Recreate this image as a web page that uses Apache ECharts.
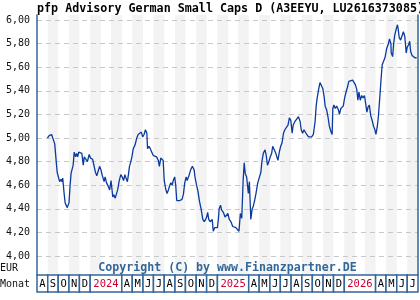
<!DOCTYPE html>
<html><head><meta charset="utf-8">
<script src="https://cdn.jsdelivr.net/npm/echarts@6/dist/echarts.min.js"></script>
<style>html,body{margin:0;padding:0;background:#fff}#c{width:420px;height:300px}</style>
</head><body><div id="c"></div>
<script>
const titleText = 'pfp Advisory German Small Caps D (A3EEYU, LU2616373085)';
const copyrightText = 'Copyright (C) by www.Finanzpartner.DE';
const unitLabel = 'EUR';
const monthRowLabel = 'Monat';
const axisStart = '2023-08-01';
const axisEnd = '2026-08-01';
const yTicks = [4.0, 4.2, 4.4, 4.6, 4.8, 5.0, 5.2, 5.4, 5.6, 5.8, 6.0];
const monthLabels = ['A','S','O','N','D','2024','A','M','J','J','A','S','O','N','D','2025','A','M','J','J','A','S','O','N','D','2026','A','M','J','J'];

const dates = [
'2023-08-31','2023-09-05','2023-09-12','2023-09-17','2023-09-21','2023-09-25','2023-09-28','2023-10-01','2023-10-05','2023-10-09',
'2023-10-12','2023-10-14','2023-10-18','2023-10-21','2023-10-27','2023-11-01','2023-11-04','2023-11-07','2023-11-11','2023-11-13',
'2023-11-16','2023-11-20','2023-11-23','2023-11-26','2023-11-29','2023-12-03','2023-12-08','2023-12-12','2023-12-15','2023-12-20',
'2023-12-24','2023-12-29','2024-01-02','2024-01-08','2024-01-12','2024-01-16','2024-01-20','2024-01-24','2024-01-28','2024-02-01',
'2024-02-05','2024-02-10','2024-02-13','2024-02-17','2024-02-22','2024-02-26','2024-03-01','2024-03-06','2024-03-09','2024-03-13',
'2024-03-16','2024-03-20','2024-03-24','2024-03-29','2024-04-02','2024-04-06','2024-04-10','2024-04-13','2024-04-17','2024-04-20',
'2024-04-23','2024-04-27','2024-04-30','2024-05-04','2024-05-09','2024-05-14','2024-05-18','2024-05-23','2024-05-27','2024-05-31',
'2024-06-04','2024-06-08','2024-06-12','2024-06-14','2024-06-18','2024-06-22','2024-06-26','2024-07-01','2024-07-05','2024-07-10',
'2024-07-15','2024-07-18','2024-07-22','2024-07-26','2024-07-29','2024-08-01','2024-08-05','2024-08-09','2024-08-13','2024-08-17',
'2024-08-20','2024-08-24','2024-08-27','2024-08-31','2024-09-03','2024-09-06','2024-09-10','2024-09-15','2024-09-21','2024-09-25',
'2024-09-29','2024-10-03','2024-10-06','2024-10-11','2024-10-16','2024-10-21','2024-10-26','2024-10-29','2024-11-02','2024-11-06',
'2024-11-10','2024-11-15','2024-11-20','2024-11-24','2024-11-28','2024-12-01','2024-12-04','2024-12-07','2024-12-11','2024-12-14',
'2024-12-17','2024-12-20','2024-12-24','2024-12-28','2025-01-01','2025-01-04','2025-01-06','2025-01-10','2025-01-13','2025-01-18',
'2025-01-23','2025-01-28','2025-01-31','2025-02-04','2025-02-09','2025-02-14','2025-02-19','2025-02-23','2025-02-28','2025-03-04',
'2025-03-08','2025-03-12','2025-03-16','2025-03-19','2025-03-22','2025-03-26','2025-03-31','2025-04-03','2025-04-07','2025-04-11',
'2025-04-14','2025-04-18','2025-04-22','2025-04-27','2025-05-02','2025-05-06','2025-05-09','2025-05-13','2025-05-18','2025-05-21',
'2025-05-25','2025-05-29','2025-06-01','2025-06-06','2025-06-09','2025-06-14','2025-06-18','2025-06-21','2025-06-24','2025-06-28',
'2025-07-02','2025-07-06','2025-07-10','2025-07-14','2025-07-19','2025-07-23','2025-07-27','2025-07-31','2025-08-04','2025-08-07',
'2025-08-12','2025-08-17','2025-08-22','2025-08-27','2025-08-30','2025-09-03','2025-09-07','2025-09-11','2025-09-15','2025-09-20',
'2025-09-24','2025-09-29','2025-10-04','2025-10-09','2025-10-12','2025-10-15','2025-10-19','2025-10-23','2025-10-27','2025-10-31',
'2025-11-04','2025-11-07','2025-11-11','2025-11-15','2025-11-19','2025-11-24','2025-11-27','2025-11-29','2025-12-02','2025-12-06',
'2025-12-10','2025-12-15','2025-12-18','2025-12-22','2025-12-25','2025-12-29','2026-01-02','2026-01-06','2026-01-10','2026-01-14',
'2026-01-19','2026-01-25','2026-01-29','2026-02-02','2026-02-06','2026-02-09','2026-02-12','2026-02-16','2026-02-20','2026-02-24',
'2026-02-28','2026-03-04','2026-03-07','2026-03-10','2026-03-14','2026-03-18','2026-03-22','2026-03-26','2026-03-30','2026-04-02',
'2026-04-06','2026-04-09','2026-04-13','2026-04-17','2026-04-20','2026-04-24','2026-04-28','2026-05-03','2026-05-07','2026-05-11',
'2026-05-15','2026-05-16','2026-05-20','2026-05-23','2026-05-26','2026-05-30','2026-06-03','2026-06-05','2026-06-08','2026-06-12',
'2026-06-16','2026-06-20','2026-06-24','2026-06-28','2026-07-01','2026-07-05','2026-07-08','2026-07-11','2026-07-15','2026-07-19',
'2026-07-23','2026-07-28'
];
const values = [
5.00,5.02,5.03,5.02,4.95,4.81,4.71,4.70,4.63,4.65,
4.63,4.66,4.53,4.45,4.41,4.45,4.59,4.70,4.71,4.77,
4.88,4.84,4.87,4.84,4.88,4.89,4.87,4.77,4.84,4.84,
4.80,4.86,4.83,4.82,4.83,4.71,4.68,4.69,4.76,4.73,
4.68,4.63,4.67,4.62,4.59,4.56,4.64,4.50,4.52,4.49,
4.48,4.56,4.63,4.69,4.67,4.64,4.69,4.66,4.63,4.69,
4.76,4.80,4.84,4.91,4.94,5.00,5.03,5.03,5.05,5.01,
5.03,5.07,5.04,4.91,4.93,4.91,4.88,4.85,4.85,4.84,
4.81,4.76,4.83,4.84,4.81,4.64,4.57,4.53,4.56,4.60,
4.62,4.60,4.64,4.67,4.60,4.47,4.46,4.47,4.48,4.52,
4.62,4.67,4.64,4.68,4.73,4.76,4.73,4.66,4.60,4.55,
4.47,4.40,4.31,4.29,4.31,4.33,4.37,4.31,4.29,4.28,
4.31,4.21,4.24,4.25,4.24,4.32,4.40,4.43,4.39,4.37,
4.33,4.32,4.36,4.31,4.29,4.25,4.26,4.24,4.24,4.21,
4.36,4.32,4.64,4.79,4.70,4.67,4.53,4.63,4.31,4.40,
4.42,4.47,4.53,4.62,4.67,4.71,4.80,4.87,4.90,4.86,
4.77,4.80,4.83,4.87,4.93,4.92,4.87,4.84,4.81,4.88,
4.93,4.96,5.04,5.07,5.08,5.11,5.17,5.15,5.04,5.11,
5.14,5.16,5.18,5.14,5.07,5.04,5.07,5.07,5.03,5.01,
5.00,5.01,5.03,5.14,5.27,5.34,5.41,5.47,5.46,5.42,
5.35,5.27,5.24,5.18,5.10,5.05,5.03,5.25,5.28,5.25,
5.27,5.24,5.20,5.25,5.24,5.27,5.34,5.39,5.43,5.48,
5.48,5.49,5.50,5.45,5.41,5.32,5.39,5.32,5.36,5.34,
5.36,5.28,5.22,5.26,5.28,5.19,5.15,5.10,5.07,5.03,
5.10,5.18,5.34,5.51,5.62,5.65,5.68,5.76,5.79,5.84,
5.80,5.72,5.69,5.80,5.87,5.92,5.96,5.92,5.85,5.83,
5.84,5.90,5.86,5.72,5.77,5.79,5.82,5.73,5.70,5.69,
5.68,5.68
];

const FRAME = '#336699';
const MONO = '"DejaVu Sans Mono", monospace';

function parseYM(s){ const p = s.split('-').map(Number); return new Date(p[0], p[1]-1, p[2]); }
const start = parseYM(axisStart), end = parseYM(axisEnd);
const stripeData = [];
{
  let i = 0; let d = new Date(start);
  while (d < end) {
    const n = new Date(d.getFullYear(), d.getMonth()+1, 1);
    if (i % 2 === 1) stripeData.push([d.getTime(), n.getTime()]);
    d = n; i++;
  }
}
const cellData = [];
{
  let d = new Date(start);
  monthLabels.forEach(lab => {
    const span = /^\d{4}$/.test(lab) ? 3 : 1;
    const n = new Date(d.getFullYear(), d.getMonth()+span, 1);
    cellData.push([d.getTime(), n.getTime()]);
    d = n;
  });
}

const chart = echarts.init(document.getElementById('c'), null, {renderer:'canvas'});
const xBase = {type:'time', min: axisStart, max: axisEnd, show:false};
chart.setOption({
  animation:false,
  backgroundColor:'#fff',
  grid:[
    {left:37, right:2, top:15, bottom:25},
    {left:37, right:2, top:20, height:236},
    {left:37, right:2, top:275, height:17}
  ],
  xAxis:[
    Object.assign({gridIndex:0}, xBase),
    Object.assign({gridIndex:1}, xBase),
    Object.assign({gridIndex:2}, xBase)
  ],
  yAxis:[
    {gridIndex:0, min:0, max:1, z:4, axisLine:{show:true, lineStyle:{color:FRAME, width:1.5}}, axisTick:{show:false}, axisLabel:{show:false}, splitLine:{show:false}},
    {gridIndex:1, min:yTicks[0], max:yTicks[yTicks.length-1], interval:0.2, z:2,
      axisLine:{show:false}, axisTick:{show:false},
      axisLabel:{margin:7, color:'#111', fontFamily:'DejaVu Sans Mono', fontSize:10,
        formatter: v => v.toFixed(2).replace('.', ',')},
      splitLine:{show:true, lineStyle:{color:'#c8c8c8', type:[5,4], width:1}}},
    {gridIndex:2, min:0, max:1, show:false},
    {gridIndex:0, min:0, max:1, position:'right', z:4, axisLine:{show:true, lineStyle:{color:FRAME, width:1.5}}, axisTick:{show:false}, axisLabel:{show:false}, splitLine:{show:false}}
  ],
  series:[
    {type:'custom', xAxisIndex:0, yAxisIndex:0, z:1, silent:true,
      data: stripeData,
      renderItem:(params, api) => {
        const a = api.coord([api.value(0), 0]);
        const b = api.coord([api.value(1), 0]);
        const cs = params.coordSys;
        return {type:'rect', shape:{x:a[0], y:cs.y, width:b[0]-a[0], height:cs.height}, style:{fill:'#f3f3f3'}};
      }},
    {type:'line', xAxisIndex:1, yAxisIndex:1, z:3, showSymbol:false, smooth:false,
      data: dates.map((d, i) => [d, values[i]]),
      lineStyle:{color:'#0b3a9e', width:1.3}},
    {type:'custom', xAxisIndex:2, yAxisIndex:2, z:4, silent:true,
      data: cellData,
      renderItem:(params, api) => {
        const a = api.coord([api.value(0), 0]);
        const b = api.coord([api.value(1), 0]);
        const cs = params.coordSys;
        const lab = monthLabels[params.dataIndex];
        const isYear = /^\d{4}$/.test(lab);
        return {type:'group', children:[
          {type:'rect', shape:{x:a[0], y:cs.y, width:b[0]-a[0], height:cs.height},
            style:{fill:'#fff', stroke:FRAME, lineWidth:1.5}},
          {type:'text', style:{text:lab, x:(a[0]+b[0])/2, y:cs.y+cs.height/2+0.5, align:'center', verticalAlign:'middle',
            fill: isYear ? '#cc0033' : '#000', font:'10.5px ' + MONO}}
        ]};
      }}
  ],
  graphic:[
    {type:'text', x:37, y:9, z:10, style:{text:titleText, font:'bold 11.7px ' + MONO, fill:'#000', verticalAlign:'middle'}},
    {type:'text', x:227.5, y:268, z:10, style:{text:copyrightText, font:'bold 11.6px ' + MONO, fill:'#336699', align:'center', verticalAlign:'middle'}},
    {type:'text', x:0, y:268, z:10, style:{text:unitLabel, font:'10px ' + MONO, fill:'#111', verticalAlign:'middle'}},
    {type:'text', x:0, y:284, z:10, style:{text:monthRowLabel, font:'10px ' + MONO, fill:'#111', verticalAlign:'middle'}}
  ]
});
</script></body></html>
